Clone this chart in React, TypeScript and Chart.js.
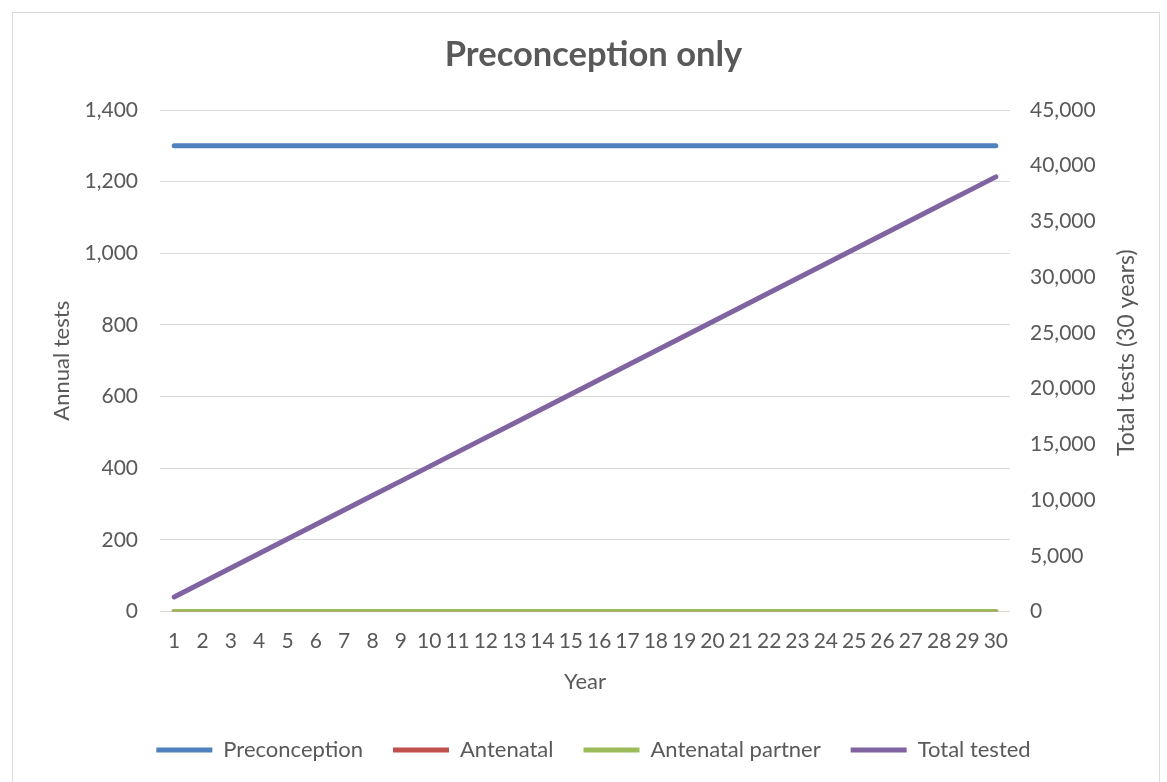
import React, { useEffect, useRef } from "react";
import { Chart, registerables } from "chart.js";

Chart.register(...registerables);

const years = ["1","2","3","4","5","6","7","8","9","10","11","12","13","14","15","16","17","18","19","20","21","22","23","24","25","26","27","28","29","30"];
const preconception = [1300,1300,1300,1300,1300,1300,1300,1300,1300,1300,1300,1300,1300,1300,1300,1300,1300,1300,1300,1300,1300,1300,1300,1300,1300,1300,1300,1300,1300,1300];
const antenatal = [0,0,0,0,0,0,0,0,0,0,0,0,0,0,0,0,0,0,0,0,0,0,0,0,0,0,0,0,0,0];
const antenatalPartner = [0,0,0,0,0,0,0,0,0,0,0,0,0,0,0,0,0,0,0,0,0,0,0,0,0,0,0,0,0,0];
const totalTested = [1300,2600,3900,5200,6500,7800,9100,10400,11700,13000,14300,15600,16900,18200,19500,20800,22100,23400,24700,26000,27300,28600,29900,31200,32500,33800,35100,36400,37700,39000];

const TITLE = "Preconception only";
const LEFT_TITLE = "Annual tests";
const RIGHT_TITLE = "Total tests (30 years)";
const X_TITLE = "Year";

const TEXT = "#595959";
const GRID = "#d9d9d9";
const FONT = "Lato";

const frame = {
  id: "frame",
  beforeDraw(chart: any) {
    const ctx = chart.ctx;
    ctx.save();
    ctx.fillStyle = "#ffffff";
    ctx.fillRect(0, 0, chart.width, chart.height);
    ctx.strokeStyle = GRID;
    ctx.lineWidth = 1;
    ctx.strokeRect(12.5, 12.5, 1147, 800);
    ctx.restore();
  },
};

const rightTitle = {
  id: "rightTitle",
  afterDraw(chart: any) {
    const ctx = chart.ctx;
    const a = chart.chartArea;
    ctx.save();
    ctx.translate(1127, (a.top + a.bottom) / 2 - 8);
    ctx.rotate(-Math.PI / 2);
    ctx.font = `23px ${FONT}`;
    ctx.fillStyle = TEXT;
    ctx.textAlign = "center";
    ctx.textBaseline = "middle";
    ctx.fillText(RIGHT_TITLE, 0, 0);
    ctx.restore();
  },
};

export default function App() {
  const ref = useRef<HTMLCanvasElement | null>(null);
  useEffect(() => {
    if (!ref.current) return;
    const common = { borderWidth: 5, pointRadius: 0, borderCapStyle: "round" as const, tension: 0, fill: false };
    const chart = new Chart(ref.current, {
      type: "line",
      data: {
        labels: years,
        datasets: [
          { ...common, label: "Preconception", data: preconception, borderColor: "#4F81BD", backgroundColor: "#4F81BD", yAxisID: "y", order: 4 },
          { ...common, label: "Antenatal", data: antenatal, borderColor: "#C0504D", backgroundColor: "#C0504D", yAxisID: "y", order: 3 },
          { ...common, label: "Antenatal partner", data: antenatalPartner, borderColor: "#9BBB59", backgroundColor: "#9BBB59", yAxisID: "y", order: 2 },
          { ...common, label: "Total tested", data: totalTested, borderColor: "#8064A2", backgroundColor: "#8064A2", yAxisID: "y1", order: 1 },
        ],
      },
      options: {
        responsive: false,
        animation: false,
        layout: { padding: { left: 20, right: 0, top: 0, bottom: 11 } },
        plugins: {
          title: {
            display: true,
            text: TITLE,
            color: TEXT,
            font: { family: FONT, size: 34.5, weight: "bold" },
            padding: { top: 34.3, bottom: 34.3 },
          },
          legend: {
            position: "bottom",
            maxHeight: 74.5,
            labels: {
              usePointStyle: true,
              pointStyle: "line",
              pointStyleWidth: 56,
              padding: 30,
              color: TEXT,
              font: { family: FONT, size: 22 },
              sort: (a: any, b: any) => a.datasetIndex - b.datasetIndex,
            },
          },
          tooltip: { enabled: false },
        },
        scales: {
          x: {
            offset: true,
            grid: { display: false, drawTicks: false },
            border: { display: false },
            ticks: { color: TEXT, font: { family: FONT, size: 21 }, padding: 17.4, maxRotation: 0, autoSkip: false },
            title: { display: true, text: X_TITLE, color: TEXT, font: { family: FONT, size: 22 }, padding: { top: 0, bottom: 14.3 } },
            afterFit: (s: any) => { s.height = 97.5; },
          },
          y: {
            position: "left",
            min: 0,
            max: 1400,
            grid: { color: GRID, lineWidth: 1, drawTicks: false },
            border: { display: false },
            ticks: { stepSize: 200, color: TEXT, font: { family: FONT, size: 21 }, padding: 22 },
            title: { display: true, text: LEFT_TITLE, color: TEXT, font: { family: FONT, size: 22 }, padding: { top: 28.8, bottom: 0 } },
            afterFit: (s: any) => { s.width = 140; },
          },
          y1: {
            position: "right",
            min: 0,
            max: 45000,
            grid: { display: false, drawTicks: false },
            border: { display: false },
            ticks: { stepSize: 5000, color: TEXT, font: { family: FONT, size: 21 }, padding: 20 },
            afterFit: (s: any) => { s.width = 157; },
          },
        },
      },
      plugins: [frame, rightTitle],
    });
    return () => chart.destroy();
  }, []);
  return (
    <div style={{ position: "absolute", left: 0, top: 0, width: 1167, height: 782 }}>
      <canvas ref={ref} width={1167} height={782} style={{ display: "block" }} />
    </div>
  );
}
